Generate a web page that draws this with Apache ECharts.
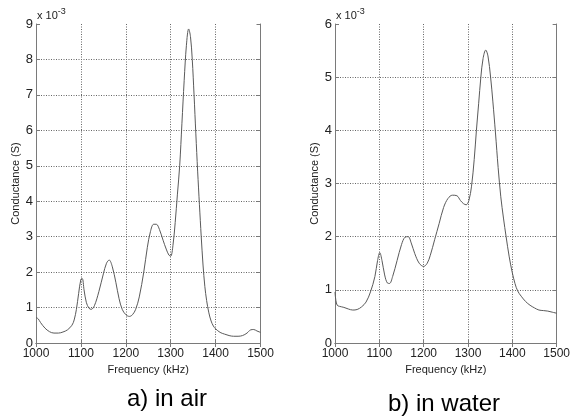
<!DOCTYPE html>
<html>
<head>
<meta charset="utf-8">
<script src="https://cdn.jsdelivr.net/npm/echarts@6/dist/echarts.min.js"></script>
<style>html,body{margin:0;padding:0;background:#fff}#c{width:573px;height:420px}</style>
</head>
<body>
<div id="c"></div>
<script>
// Frequencies (kHz) and conductance (units of 1e-3 S)
const freqAir = [1000,1005,1010,1020,1030,1040,1050,1060,1070,1080,1085,1090,1095,1100,1103,1107,1112,1118,1123,1130,1140,1150,1157,1163,1170,1178,1185,1192,1200,1208,1215,1222,1230,1240,1248,1255,1262,1268,1275,1283,1290,1296,1300,1305,1310,1315,1320,1325,1330,1335,1340,1344,1348,1352,1356,1360,1364,1368,1372,1376,1380,1385,1390,1395,1400,1410,1420,1430,1440,1450,1460,1470,1478,1485,1492,1500];
const condAir = [0.72,0.68,0.58,0.42,0.32,0.28,0.28,0.31,0.37,0.50,0.65,0.95,1.40,1.80,1.82,1.50,1.15,0.98,0.95,1.05,1.45,1.95,2.25,2.34,2.15,1.70,1.25,0.95,0.80,0.75,0.80,0.95,1.30,2.00,2.70,3.15,3.35,3.35,3.20,2.90,2.65,2.48,2.45,2.75,3.40,4.20,5.00,6.20,7.40,8.40,8.86,8.65,8.00,7.00,5.90,4.85,3.90,3.00,2.20,1.60,1.20,0.85,0.62,0.48,0.40,0.30,0.25,0.21,0.19,0.19,0.21,0.28,0.37,0.38,0.34,0.30];
const freqWater = [1000,1002,1005,1010,1020,1030,1040,1050,1060,1070,1080,1090,1096,1101,1106,1112,1118,1123,1130,1140,1150,1158,1165,1172,1180,1190,1200,1208,1215,1225,1235,1245,1255,1265,1275,1283,1290,1296,1302,1308,1314,1319,1324,1329,1334,1340,1345,1351,1356,1362,1368,1374,1380,1386,1393,1400,1406,1412,1420,1430,1440,1450,1460,1470,1480,1490,1500];
const condWater = [0.96,0.80,0.71,0.69,0.67,0.64,0.62,0.63,0.68,0.77,0.96,1.25,1.55,1.70,1.55,1.28,1.13,1.12,1.25,1.55,1.85,1.99,2.00,1.88,1.68,1.50,1.44,1.50,1.65,1.95,2.25,2.55,2.72,2.78,2.77,2.68,2.62,2.60,2.68,2.95,3.45,4.00,4.50,5.00,5.35,5.51,5.40,5.00,4.55,3.95,3.30,2.75,2.35,2.00,1.62,1.32,1.12,0.98,0.88,0.78,0.71,0.66,0.62,0.61,0.60,0.58,0.56];
const xTicks = [1000,1100,1200,1300,1400,1500];
const yTicksAir = [0,1,2,3,4,5,6,7,8,9];
const yTicksWater = [0,1,2,3,4,5,6];
const xName = 'Frequency (kHz)';
const yName = 'Conductance (S)';
const captions = ['a) in air', 'b) in water'];

const FONT = 'Arial, "Liberation Sans", sans-serif';
const frameColor = '#7a7a7a';
const txtColor = '#222';
const gridStyle = {color: '#666', type: [1, 1.5], width: 1};

function xAxes(gi) {
  return [{
    gridIndex: gi, type: 'value', position: 'bottom',
    min: xTicks[0], max: xTicks[xTicks.length-1], interval: 100,
    axisLine: {show: true, lineStyle: {color: frameColor, width: 1}},
    axisTick: {show: true, inside: true, length: 4, lineStyle: {color: frameColor}},
    axisLabel: {color: txtColor, fontSize: 12, fontFamily: FONT, margin: 5, formatter: v => String(v)},
    splitLine: {show: true, showMinLine: false, showMaxLine: false, lineStyle: gridStyle},
    name: xName, nameLocation: 'middle', nameGap: 19,
    nameTextStyle: {color: txtColor, fontSize: 11, fontFamily: FONT}
  }, {
    gridIndex: gi, type: 'value', position: 'top',
    min: xTicks[0], max: xTicks[xTicks.length-1], interval: 100,
    axisLine: {show: true, lineStyle: {color: frameColor, width: 1}},
    axisTick: {show: true, inside: true, length: 4, lineStyle: {color: frameColor}},
    axisLabel: {show: false}, splitLine: {show: false}
  }];
}
function yAxes(gi, ticks) {
  const mx = ticks[ticks.length-1];
  return [{
    gridIndex: gi, type: 'value', position: 'left',
    min: 0, max: mx, interval: 1,
    axisLine: {show: true, lineStyle: {color: frameColor, width: 1}},
    axisTick: {show: true, inside: true, length: 4, lineStyle: {color: frameColor}},
    axisLabel: {color: txtColor, fontSize: 13, fontFamily: FONT, margin: 3},
    splitLine: {show: true, showMinLine: false, showMaxLine: false, lineStyle: gridStyle},
    name: yName, nameLocation: 'middle', nameGap: 12, nameRotate: 90,
    nameTextStyle: {color: txtColor, fontSize: 11, fontFamily: FONT}
  }, {
    gridIndex: gi, type: 'value', position: 'right',
    min: 0, max: mx, interval: 1,
    axisLine: {show: true, lineStyle: {color: frameColor, width: 1}},
    axisTick: {show: true, inside: true, length: 4, lineStyle: {color: frameColor}},
    axisLabel: {show: false}, splitLine: {show: false}
  }];
}
const zip = (a, b) => a.map((v, i) => [v, b[i]]);

const chart = echarts.init(document.getElementById('c'), null, {renderer: 'canvas'});
const expStyle = {text: 'x 10{s|-3}', fill: txtColor, font: '11px ' + FONT,
  rich: {s: {fontSize: 9, verticalAlign: 'top', padding: [0,0,8,0], fill: txtColor, fontFamily: FONT}}};
chart.setOption({
  animation: false,
  backgroundColor: '#fff',
  grid: [
    {left: 36, top: 24, width: 224.5, height: 319},
    {left: 335, top: 24, width: 227, height: 319}
  ],
  xAxis: [...xAxes(0), ...xAxes(1)],
  yAxis: [...yAxes(0, yTicksAir), ...yAxes(1, yTicksWater)],
  series: [
    {type: 'line', xAxisIndex: 0, yAxisIndex: 0, data: zip(freqAir, condAir), showSymbol: false, smooth: 0.35,
     lineStyle: {color: '#5a5a5a', width: 1}},
    {type: 'line', xAxisIndex: 2, yAxisIndex: 2, data: zip(freqWater, condWater), showSymbol: false, smooth: 0.35,
     lineStyle: {color: '#5a5a5a', width: 1}}
  ],
  graphic: [
    {type: 'text', left: 37, top: 7, style: expStyle},
    {type: 'text', left: 336, top: 7, style: expStyle},
    {type: 'text', x: 167, y: 399, style: {text: captions[0], fill: '#000', font: '24px ' + FONT, align: 'center', verticalAlign: 'middle'}},
    {type: 'text', x: 444, y: 404, style: {text: captions[1], fill: '#000', font: '24px ' + FONT, align: 'center', verticalAlign: 'middle'}}
  ]
});
</script>
</body>
</html>
